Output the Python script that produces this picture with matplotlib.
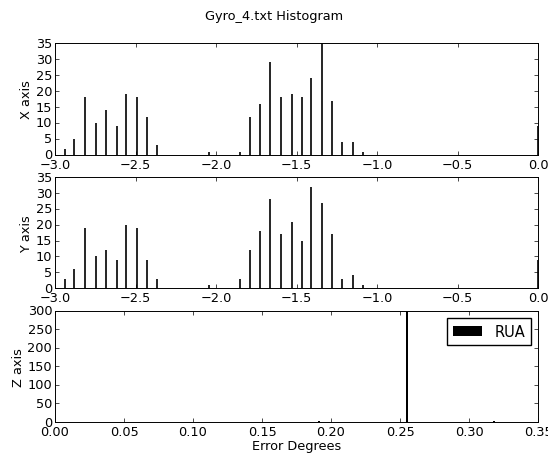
import matplotlib
matplotlib.use("Agg")
import matplotlib.pyplot as plt
import numpy as np

# bin centres and counts
x_bins = [-2.936, -2.880, -2.814, -2.745, -2.683, -2.617, -2.559, -2.493, -2.429, -2.366,
          -2.043, -1.851, -1.791, -1.729, -1.665, -1.595, -1.530, -1.468, -1.410, -1.344,
          -1.278, -1.216, -1.149, -1.089, -0.002]
x_counts = [2, 5, 18, 10, 14, 9, 19, 18, 12, 3,
            1, 1, 12, 16, 29, 18, 19, 18, 24, 35,
            17, 4, 4, 1, 9]

y_bins = x_bins
y_counts = [3, 6, 19, 10, 12, 9, 20, 19, 9, 3,
            1, 3, 12, 18, 28, 17, 21, 15, 32, 27,
            17, 3, 4, 1, 9]

z_bins = [0.1914, 0.2548, 0.318]
z_counts = [2, 320, 2]

plt.style.use('classic')
fs = 9.3
plt.rcParams['font.size'] = fs
plt.rcParams['axes.linewidth'] = 0.7
plt.rcParams['xtick.major.size'] = 2.8
plt.rcParams['ytick.major.size'] = 2.8
plt.rcParams['xtick.minor.size'] = 1.4
plt.rcParams['ytick.minor.size'] = 1.4
plt.rcParams['xtick.major.width'] = 0.5
plt.rcParams['ytick.major.width'] = 0.5

fig = plt.figure(figsize=(5.48, 4.6), dpi=100)
fig.patch.set_facecolor('white')
fig.suptitle('Gyro_4.txt Histogram', fontsize=fs, y=0.978)

ax1 = fig.add_axes([0.1004, 0.6609, 0.8814, 0.2434])
ax1.vlines(x_bins, 0, x_counts, colors='k', linewidth=1.2)
ax1.set_xlim(-3.0, 0.0)
ax1.set_ylim(0, 35)
ax1.set_yticks(np.arange(0, 36, 5))
ax1.set_ylabel('X axis', labelpad=2)

ax2 = fig.add_axes([0.1004, 0.3717, 0.8814, 0.2407])
ax2.vlines(y_bins, 0, y_counts, colors='k', linewidth=1.2)
ax2.set_xlim(-3.0, 0.0)
ax2.set_ylim(0, 35)
ax2.set_yticks(np.arange(0, 36, 5))
ax2.set_ylabel('Y axis', labelpad=2)

ax3 = fig.add_axes([0.1004, 0.0804, 0.8814, 0.2420])
ax3.bar(z_bins, z_counts, width=0.0015, color='k', linewidth=0, label='RUA')
ax3.set_xlim(0, 0.35)
ax3.set_ylim(0, 300)
ax3.set_yticks(np.arange(0, 301, 50))
ax3.set_ylabel('Z axis', labelpad=2)
ax3.set_xlabel('Error Degrees', labelpad=1)
ax3.legend(loc='upper right', fontsize=fs + 1.2)

for ax in (ax1, ax2, ax3):
    ax.tick_params(labelsize=fs, pad=2)

plt.savefig("out.png", dpi=100, facecolor='white')
